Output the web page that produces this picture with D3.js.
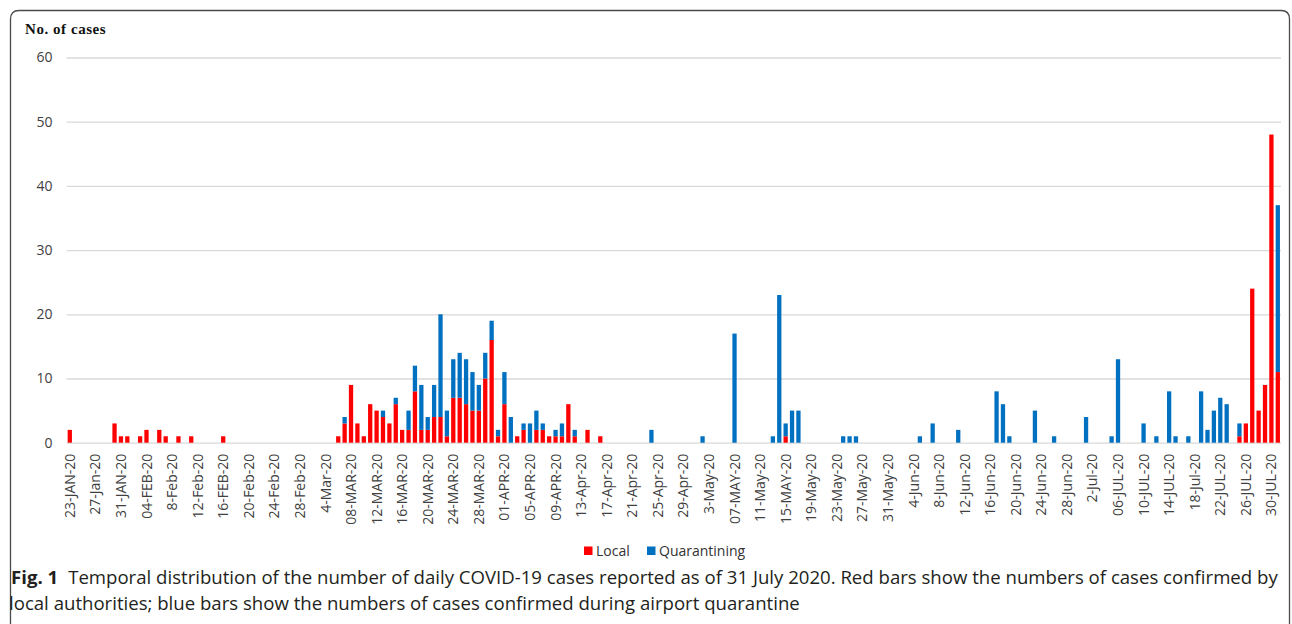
<!DOCTYPE html>
<html>
<head>
<meta charset="utf-8">
<script src="https://cdn.jsdelivr.net/npm/d3@7"></script>
<style>
  html, body { margin: 0; padding: 0; background: #fff; }
  svg { display: block; }
</style>
</head>
<body>
<svg id="chart" width="1292" height="624"></svg>
<script>
// ---------------- DATA ----------------
// Daily categories: 23 Jan 2020 .. 31 Jul 2020 (the source sheet has no 29 Feb)
const startDate = "2020-01-23";
const endDate = "2020-07-31";
const skippedDates = ["2020-02-29"];

// Tick labels, shown on every 4th category
const tickLabels = [
  "23-JAN-20","27-Jan-20","31-JAN-20","04-FEB-20","8-Feb-20","12-Feb-20","16-FEB-20","20-Feb-20",
  "24-Feb-20","28-Feb-20","4-Mar-20","08-MAR-20","12-MAR-20","16-MAR-20","20-MAR-20","24-MAR-20",
  "28-MAR-20","01-APR-20","05-APR-20","09-APR-20","13-Apr-20","17-Apr-20","21-Apr-20","25-Apr-20",
  "29-Apr-20","3-May-20","07-MAY-20","11-May-20","15-MAY-20","19-May-20","23-May-20","27-May-20",
  "31-May-20","4-Jun-20","8-Jun-20","12-Jun-20","16-Jun-20","20-Jun-20","24-Jun-20","28-Jun-20",
  "2-Jul-20","06-JUL-20","10-JUL-20","14-JUL-20","18-Jul-20","22-JUL-20","26-JUL-20","30-JUL-20"
];

// Cases confirmed by local authorities (one value per day, 190 days)
const localCases = [
  2,0,0,0,0,0,0,3,1,1,   0,1,2,0,2,1,0,1,0,1,   0,0,0,0,1,0,0,0,0,0,   0,0,0,0,0,0,0,0,0,0,
  0,0,1,3,9,3,1,6,5,4,   3,6,2,2,8,2,2,4,4,1,   7,7,6,5,5,10,16,1,6,0, 1,2,0,2,2,1,1,1,6,1,
  0,2,0,1,0,0,0,0,0,0,   0,0,0,0,0,0,0,0,0,0,   0,0,0,0,0,0,0,0,0,0,   0,0,1,0,0,0,0,0,0,0,
  0,0,0,0,0,0,0,0,0,0,   0,0,0,0,0,0,0,0,0,0,   0,0,0,0,0,0,0,0,0,0,   0,0,0,0,0,0,0,0,0,0,
  0,0,0,0,0,0,0,0,0,0,   0,0,0,0,0,0,0,0,0,0,   0,0,0,1,3,24,5,9,48,11
];

// Cases confirmed during airport quarantine (one value per day, 190 days)
const quarantiningCases = [
  0,0,0,0,0,0,0,0,0,0,   0,0,0,0,0,0,0,0,0,0,   0,0,0,0,0,0,0,0,0,0,   0,0,0,0,0,0,0,0,0,0,
  0,0,0,1,0,0,0,0,0,1,   0,1,0,3,4,7,2,5,16,4,  6,7,7,6,4,4,3,1,5,4,   0,1,3,3,1,0,1,2,0,1,
  0,0,0,0,0,0,0,0,0,0,   0,2,0,0,0,0,0,0,0,1,   0,0,0,0,17,0,0,0,0,0,  1,23,2,5,5,0,0,0,0,0,
  0,1,1,1,0,0,0,0,0,0,   0,0,0,1,0,3,0,0,0,2,   0,0,0,0,0,8,6,1,0,0,   0,5,0,0,1,0,0,0,0,4,
  0,0,0,1,13,0,0,0,3,0,  1,0,8,1,0,1,0,8,2,5,   7,6,0,2,0,0,0,0,0,26
];

const yTicks = [0, 10, 20, 30, 40, 50, 60];
const seriesNames = ["Local", "Quarantining"];
const seriesColors = ["#ff0000", "#0070c0"];
const yTitle = "No. of cases";
const captionLabel = "Fig. 1";
const captionLine1 = "Temporal distribution of the number of daily COVID-19 cases reported as of 31 July 2020. Red bars show the numbers of cases confirmed by";
const captionLine2 = "local authorities; blue bars show the numbers of cases confirmed during airport quarantine";

// ---------------- BUILD ----------------
const parse = d3.utcParse("%Y-%m-%d");
const fmt = d3.utcFormat("%Y-%m-%d");
const categories = d3.utcDay.range(parse(startDate), d3.utcDay.offset(parse(endDate), 1))
  .map(fmt).filter(d => !skippedDates.includes(d));

const rows = categories.map((c, i) => ({ date: c, local: localCases[i], quarantining: quarantiningCases[i] }));
const stacked = d3.stack().keys(["local", "quarantining"])(rows);

const svg = d3.select("#chart");

// Frame (rounded, open at bottom)
svg.append("path")
  .attr("d", "M10.5,624 L10.5,19 Q10.5,10.5 19,10.5 L1281,10.5 Q1289.5,10.5 1289.5,19 L1289.5,624")
  .attr("fill", "none").attr("stroke", "#4a4a4a").attr("stroke-width", 1.3);

const plotLeft = 66.6, plotRight = 1281, plotTop = 57.5, plotBottom = 442.7;

const x = d3.scaleBand().domain(categories).range([plotLeft, plotRight]).paddingInner(0.33).paddingOuter(0.165);
const y = d3.scaleLinear().domain([0, 60]).range([plotBottom, plotTop]);

// Gridlines + y labels via axisLeft
const yAxis = svg.append("g")
  .attr("transform", `translate(${plotLeft},0)`)
  .call(d3.axisLeft(y).tickValues(yTicks).tickSize(-(plotRight - plotLeft)).tickPadding(14));
yAxis.select(".domain").remove();
yAxis.selectAll(".tick line").attr("stroke", "#d9d9d9").attr("stroke-width", 1.3);
yAxis.selectAll(".tick text")
  .attr("fill", "#404040")
  .style("font-family", "'Open Sans', sans-serif")
  .style("font-size", "14px");

// Bars
const g = svg.append("g");
stacked.forEach((layer, k) => {
  g.append("g").attr("fill", seriesColors[k])
    .selectAll("rect").data(layer.filter(d => d[1] - d[0] > 0))
    .join("rect")
    .attr("x", d => x(d.data.date))
    .attr("width", x.bandwidth())
    .attr("y", d => y(d[1]))
    .attr("height", d => y(d[0]) - y(d[1]));
});

// X axis
const tickCats = categories.filter((c, i) => i % 4 === 0);
const xAxis = svg.append("g")
  .attr("transform", `translate(0,${plotBottom})`)
  .call(d3.axisBottom(x).tickValues(tickCats).tickFormat((d, i) => tickLabels[i]).tickSize(0));
xAxis.select(".domain").remove();
xAxis.selectAll(".tick text")
  .attr("transform", "rotate(-90)")
  .attr("x", -11).attr("y", 0).attr("dy", "0.36em")
  .style("text-anchor", "end")
  .attr("fill", "#404040")
  .style("font-family", "'Open Sans', sans-serif")
  .style("font-size", "14px");

// Y title
svg.append("text")
  .attr("x", 25).attr("y", 34)
  .style("font-family", "'Liberation Serif', 'Times New Roman', serif")
  .style("font-weight", "bold").style("font-size", "15px")
  .style("letter-spacing", "0.55px")
  .attr("fill", "#111").text(yTitle);

// Legend
const legend = svg.append("g").style("font-family", "'Open Sans', sans-serif").style("font-size", "14px");
const legendPos = [584, 647];
seriesNames.forEach((name, k) => {
  legend.append("rect").attr("x", legendPos[k]).attr("y", 546.5).attr("width", 8.5).attr("height", 8.5).attr("fill", seriesColors[k]);
  legend.append("text").attr("x", legendPos[k] + 12).attr("y", 556).attr("fill", "#333").text(name);
});

// Caption
const cap = svg.append("g").style("font-family", "'Open Sans', sans-serif").attr("fill", "#231f20");
const t1 = cap.append("text").attr("x", 11).attr("y", 584).style("font-size", "17px");
t1.append("tspan").style("font-weight", "bold").text(captionLabel);
t1.append("tspan").attr("dx", 10).text(captionLine1);
const t2 = cap.append("text").attr("x", 9).attr("y", 610).style("font-size", "17px").text(captionLine2);
// fit widths to the reference
const fit = (node, target) => {
  const len = node.node().getComputedTextLength();
  const fs = 17 * target / len;
  node.style("font-size", fs.toFixed(2) + "px");
};
fit(t2, 791);
t1.style("font-size", t2.style("font-size"));
</script>
</body>
</html>
